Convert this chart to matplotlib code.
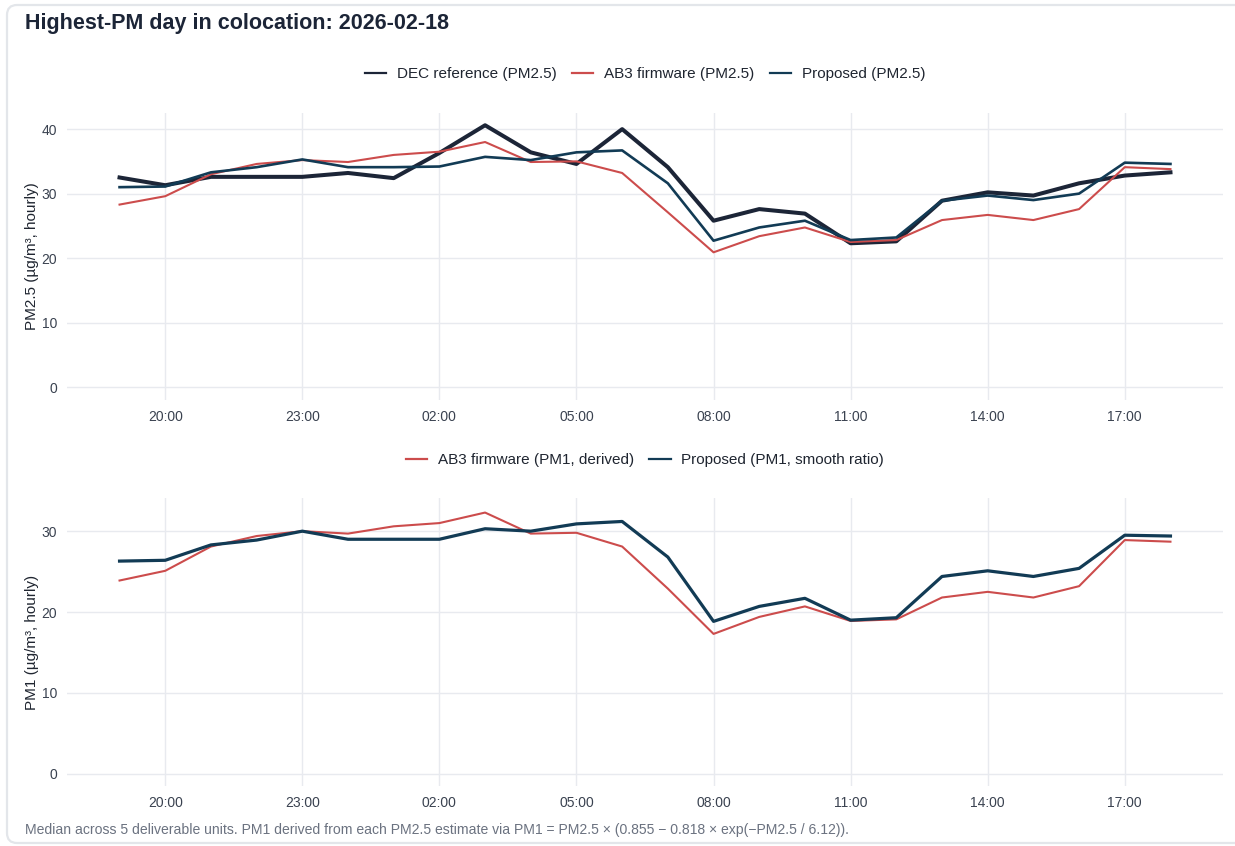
import numpy as np
import pandas as pd
import matplotlib
matplotlib.use("Agg")
import matplotlib.pyplot as plt
import matplotlib.dates as mdates
from matplotlib.path import Path
from matplotlib.patches import PathPatch
from matplotlib.transforms import IdentityTransform

plt.rcParams['font.family'] = ['Liberation Sans', 'DejaVu Sans']

# hourly timestamps, 19:00 on 02-17 to 18:00 on 02-18
times = pd.to_datetime([
    "2026-02-17 19:00", "2026-02-17 20:00", "2026-02-17 21:00", "2026-02-17 22:00",
    "2026-02-17 23:00", "2026-02-18 00:00", "2026-02-18 01:00", "2026-02-18 02:00",
    "2026-02-18 03:00", "2026-02-18 04:00", "2026-02-18 05:00", "2026-02-18 06:00",
    "2026-02-18 07:00", "2026-02-18 08:00", "2026-02-18 09:00", "2026-02-18 10:00",
    "2026-02-18 11:00", "2026-02-18 12:00", "2026-02-18 13:00", "2026-02-18 14:00",
    "2026-02-18 15:00", "2026-02-18 16:00", "2026-02-18 17:00", "2026-02-18 18:00",
])

dec_pm25 = [32.5, 31.3, 32.6, 32.6, 32.6, 33.2, 32.4, 36.3, 40.6, 36.4, 34.6, 40.0,
            34.1, 25.8, 27.6, 26.9, 22.3, 22.6, 28.9, 30.2, 29.7, 31.6, 32.8, 33.3]
ab3_pm25 = [28.3, 29.6, 33.0, 34.6, 35.2, 34.9, 36.0, 36.5, 38.0, 34.9, 35.0, 33.2,
            27.1, 20.9, 23.4, 24.75, 22.5, 22.8, 25.9, 26.7, 25.9, 27.6, 34.1, 33.8]
prop_pm25 = [31.0, 31.1, 33.3, 34.1, 35.3, 34.1, 34.1, 34.2, 35.7, 35.2, 36.4, 36.7,
             31.6, 22.7, 24.75, 25.8, 22.8, 23.2, 28.9, 29.7, 29.0, 30.0, 34.8, 34.6]

ab3_pm1 = [23.9, 25.1, 28.1, 29.4, 30.0, 29.7, 30.6, 31.0, 32.3, 29.7, 29.8, 28.1,
           22.9, 17.3, 19.4, 20.7, 18.9, 19.1, 21.8, 22.5, 21.8, 23.2, 28.9, 28.7]
prop_pm1 = [26.3, 26.4, 28.3, 28.9, 30.0, 29.0, 29.0, 29.0, 30.3, 30.0, 30.9, 31.2,
            26.8, 18.85, 20.7, 21.7, 19.0, 19.3, 24.4, 25.1, 24.4, 25.4, 29.5, 29.4]

title = "Highest-PM day in colocation: 2026-02-18"
caption = ("Median across 5 deliverable units. PM1 derived from each PM2.5 estimate via "
           "PM1 = PM2.5 \u00d7 (0.855 \u2212 0.818 \u00d7 exp(\u2212PM2.5 / 6.12)).")

c_dec = "#1c2537"
c_ab3 = "#cc4c4c"
c_prop = "#123b55"
c_grid = "#e8eaef"
c_tick = "#3a4250"
c_text = "#1f2530"

W, H = 1235, 846
fig = plt.figure(figsize=(W / 100, H / 100), dpi=100)

def px_axes(x0, y0, x1, y1):
    return fig.add_axes([x0 / W, 1 - y1 / H, (x1 - x0) / W, (y1 - y0) / H])

ax1 = px_axes(67, 113, 1223, 400)
ax2 = px_axes(67, 498, 1223, 786)

ax1.plot(times, dec_pm25, color=c_dec, lw=2.9, label="DEC reference (PM2.5)")
ax1.plot(times, ab3_pm25, color=c_ab3, lw=1.5, label="AB3 firmware (PM2.5)")
ax1.plot(times, prop_pm25, color=c_prop, lw=1.9, label="Proposed (PM2.5)")

ax2.plot(times, ab3_pm1, color=c_ab3, lw=1.5, label="AB3 firmware (PM1, derived)")
ax2.plot(times, prop_pm1, color=c_prop, lw=2.3, label="Proposed (PM1, smooth ratio)")

pad = pd.Timedelta(minutes=69)
for ax, ylim in ((ax1, (-2.0, 42.5)), (ax2, (-1.5, 34.1))):
    ax.set_xlim(times[0] - pad, times[-1] + pad)
    ax.set_ylim(*ylim)
    ax.set_yticks([0, 10, 20, 30, 40] if ax is ax1 else [0, 10, 20, 30])
    ax.xaxis.set_major_locator(mdates.HourLocator(byhour=range(2, 24, 3)))
    ax.xaxis.set_major_formatter(mdates.DateFormatter("%H:%M"))
    ax.grid(True, color=c_grid, lw=1.0)
    ax.set_axisbelow(True)
    for s in ax.spines.values():
        s.set_visible(False)
    ax.tick_params(length=0, labelsize=10, colors=c_tick, pad=7)

leg_kw = dict(loc='center', frameon=False, fontsize=11, handlelength=1.4,
              columnspacing=1.0, handletextpad=0.7)
leg1 = ax1.legend(bbox_to_anchor=(0.5, 1 + (113 - 74) / 287), ncol=3, **leg_kw)
leg2 = ax2.legend(bbox_to_anchor=(0.5, 1 + (498 - 460) / 288), ncol=2, **leg_kw)
for leg in (leg1, leg2):
    for t in leg.get_texts():
        t.set_color(c_text)
    for h in leg.get_lines():
        h.set_linewidth(1.6)

fig.text(32 / W, 1 - 256 / H, "PM2.5 (\u00b5g/m\u00b3, hourly)", rotation=90,
         ha='center', va='center', fontsize=11, color=c_text)
fig.text(32 / W, 1 - 642 / H, "PM1 (\u00b5g/m\u00b3, hourly)", rotation=90,
         ha='center', va='center', fontsize=11, color=c_text)

fig.text(25 / W, 1 - 23 / H, title, ha='left', va='center', fontsize=15.5,
         fontweight='bold', color=c_dec)
fig.text(25 / W, 1 - 830 / H, caption, ha='left', va='center', fontsize=10.1,
         color="#6b7280")

# card outline: left, top and bottom edges only (right edge is off the canvas)
x0, top, bot, r = 7, H - 5, 3, 10
verts = [(W + 20, top), (x0 + r, top), (x0, top), (x0, top - r),
         (x0, bot + r), (x0, bot), (x0 + r, bot), (W + 20, bot)]
codes = [Path.MOVETO, Path.LINETO, Path.CURVE3, Path.CURVE3,
         Path.LINETO, Path.CURVE3, Path.CURVE3, Path.LINETO]
frame = PathPatch(Path(verts, codes), transform=IdentityTransform(), fill=False,
                  edgecolor="#e3e6ea", lw=1.6)
fig.patches.append(frame)

fig.savefig("out.png", dpi=100)
